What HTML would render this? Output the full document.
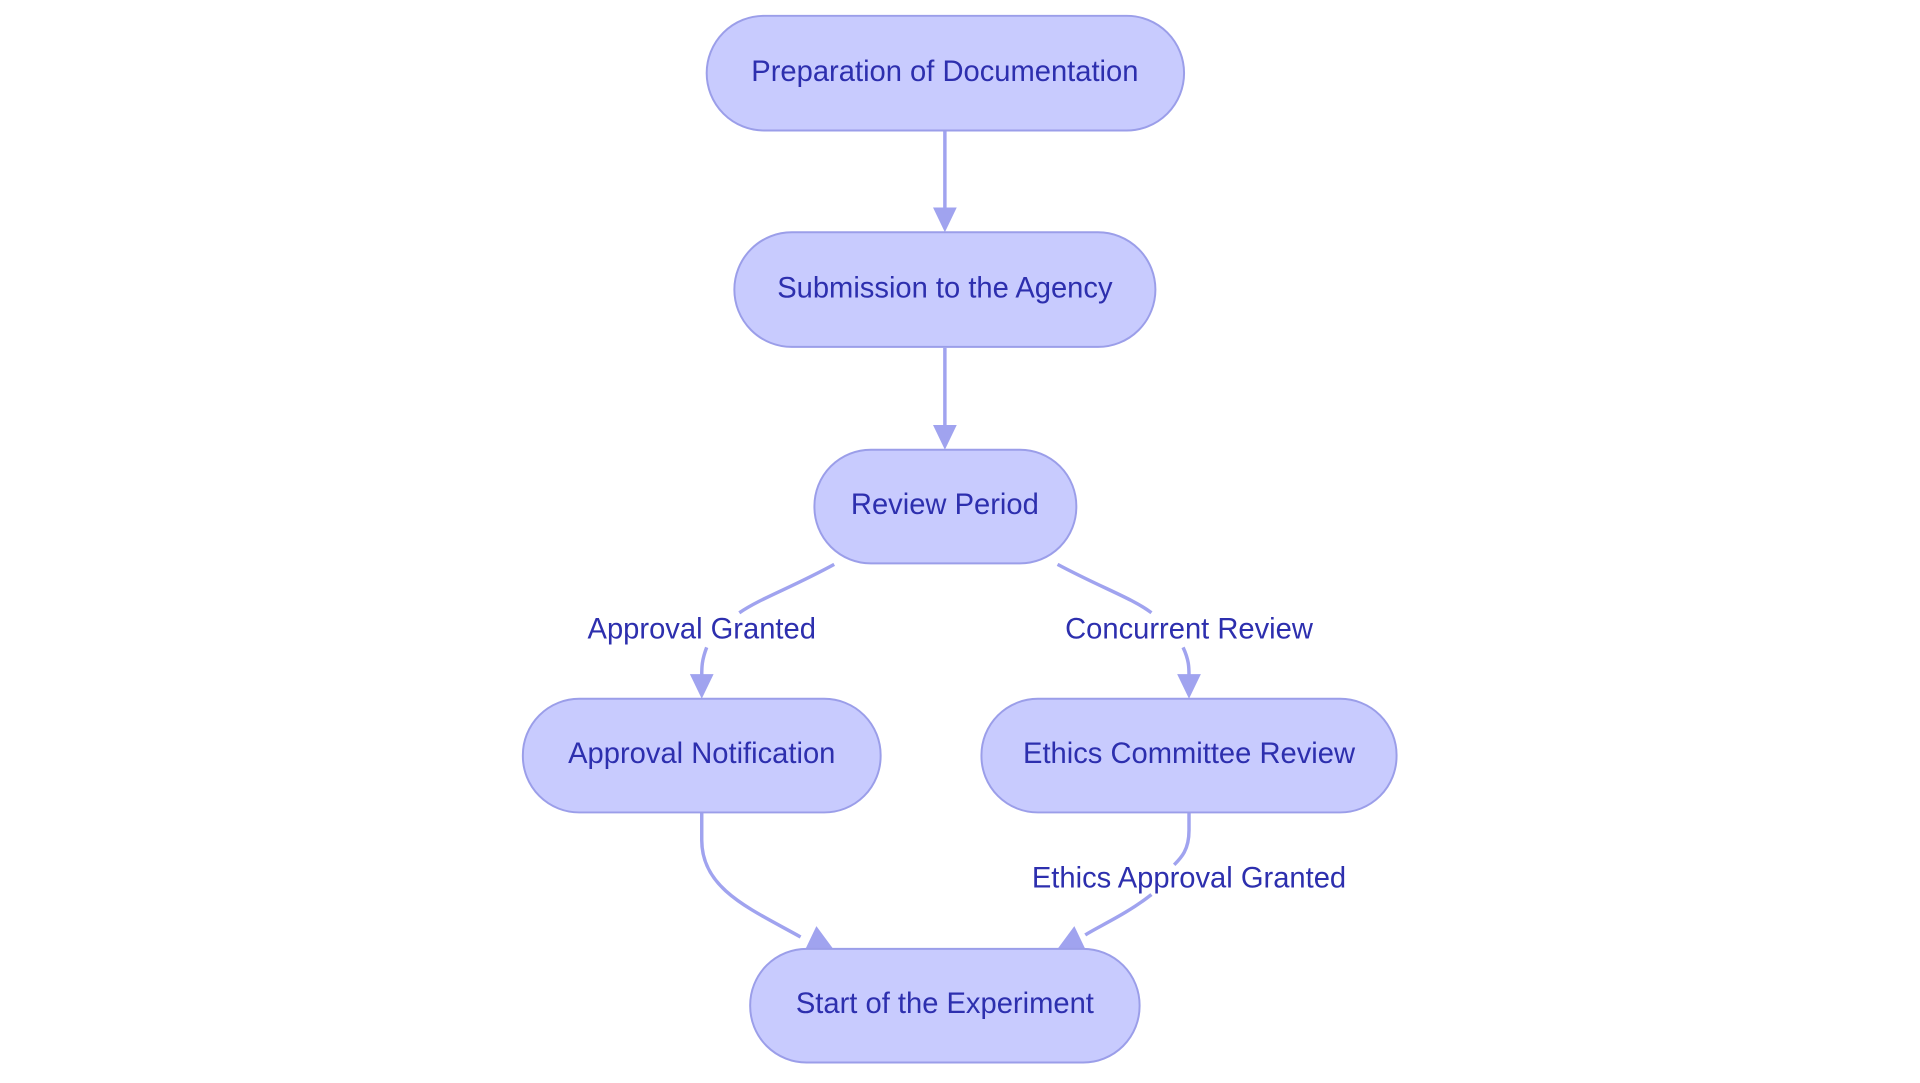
<!DOCTYPE html>
<html><head><meta charset="utf-8"><style>
html,body{margin:0;padding:0;background:#fff;}
svg{display:block}
text{font-family:"Liberation Sans",sans-serif;font-size:29.5px;fill:#2d2fae;}
.n{fill:#c8cbfe;stroke:#9b9ee9;stroke-width:2}
.e{fill:none;stroke:#a0a3ef;stroke-width:3.5}
</style></head><body>
<svg width="1920" height="1083" viewBox="0 0 1920 1083">
<g transform="scale(0.98837)">
<g class="e">
<path d="M956,133 L956,212"/>
<path d="M956,352 L956,432"/>
<path d="M844,571 C800,595 770,605 748,620 M715,655 C710,668 710,675 710,684"/>
<path d="M1070,571 C1115,595 1145,605 1165,620 M1197,655 C1203,668 1203,675 1203,684"/>
<path d="M710,822 L710,850 C710,900 760,920 810,948"/>
<path d="M1203,822 L1203,840 C1203,860 1195,868 1188,875 M1165,905 C1140,925 1110,938 1098,946"/>
</g>
<g fill="#a0a3ef">
<path d="M944,210 L968,210 L956,235 z"/>
<path d="M944,430 L968,430 L956,455 z"/>
<path d="M698,682 L722,682 L710,707 z"/>
<path d="M1191,682 L1215,682 L1203,707 z"/>
<path d="M815,960 L843,960 L826,937 z"/>
<path d="M1070,960 L1098,960 L1087,937 z"/>
</g>
<rect class="n" x="715" y="16" width="483" height="116" rx="58"/>
<rect class="n" x="743" y="235" width="426" height="116" rx="58"/>
<rect class="n" x="824" y="455" width="265" height="115" rx="57"/>
<rect class="n" x="529" y="707" width="362" height="115" rx="57"/>
<rect class="n" x="993" y="707" width="420" height="115" rx="57"/>
<rect class="n" x="759" y="960" width="394" height="115" rx="57"/>
<g text-anchor="middle" dominant-baseline="central">
<text x="956" y="73">Preparation of Documentation</text>
<text x="956" y="292">Submission to the Agency</text>
<text x="956" y="511">Review Period</text>
<text x="710" y="763">Approval Notification</text>
<text x="1203" y="763">Ethics Committee Review</text>
<text x="956" y="1016">Start of the Experiment</text>
<text x="710" y="637">Approval Granted</text>
<text x="1203" y="637">Concurrent Review</text>
<text x="1203" y="889">Ethics Approval Granted</text>
</g>
</g>
</svg>
</body></html>
